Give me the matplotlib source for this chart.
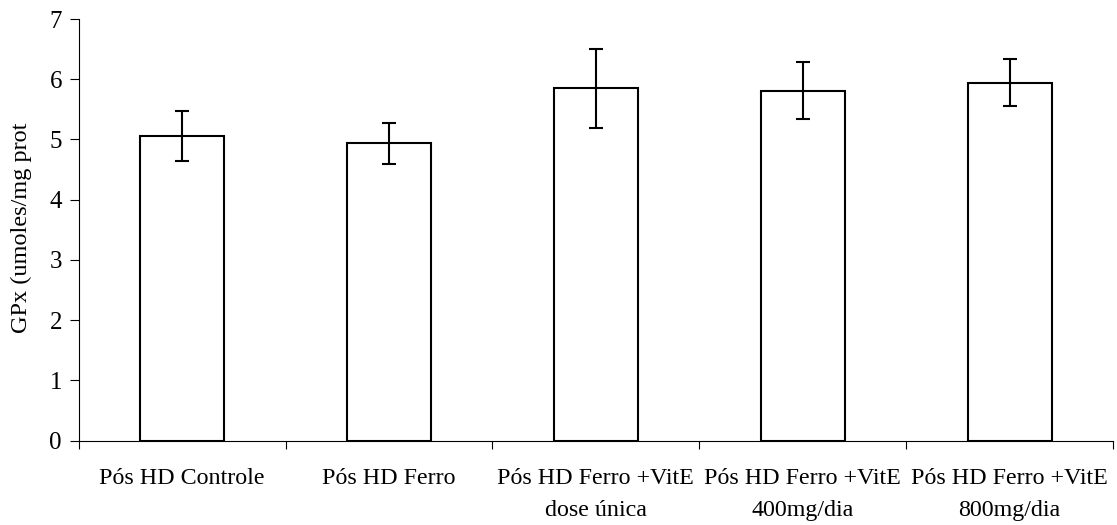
import matplotlib.pyplot as plt
import numpy as np

plt.rcParams['font.family'] = ['Liberation Serif', 'DejaVu Serif']

# data
groups = ['Pós HD Controle', 'Pós HD Ferro', 'Pós HD Ferro +VitE\ndose única',
          'Pós HD Ferro +VitE\n400mg/dia', 'Pós HD Ferro +VitE\n800mg/dia']
gpx = [5.06, 4.94, 5.85, 5.81, 5.94]
sd = [0.41, 0.34, 0.66, 0.47, 0.39]

fig = plt.figure(figsize=(11.17, 5.25), dpi=100)
ax = fig.add_axes([0.0705, 0.1606, 0.926, 0.8032])

x = np.arange(len(groups))
ax.bar(x, gpx, width=0.405, color='white', edgecolor='black', linewidth=1.5, zorder=2)
ax.errorbar(x, gpx, yerr=sd, fmt='none', ecolor='black', elinewidth=1.5,
            capsize=5.3, capthick=1.5, zorder=3)

ax.set_xlim(-0.5, len(groups) - 0.5)
ax.set_ylim(0, 7)

# ticks between categories, labels under the bars
ax.set_xticks(np.arange(-0.5, len(groups), 1))
ax.set_xticklabels([])
ax.set_xticks(x, minor=True)
ax.set_xticklabels(groups, minor=True, fontsize=17.3, linespacing=1.68)
ax.tick_params(axis='x', which='major', direction='out', length=6, width=0.8)
ax.tick_params(axis='x', which='minor', length=0, pad=20)

ax.set_yticks(range(8))
ax.tick_params(axis='y', direction='out', length=6.3, width=0.8, pad=5.8, labelsize=18)

for s in ['top', 'right']:
    ax.spines[s].set_visible(False)
for s in ['left', 'bottom']:
    ax.spines[s].set_linewidth(0.8)

fig.text(0.0188, 0.5667, 'GPx (umoles/mg prot', rotation=90, ha='center', va='center', fontsize=17.5)

fig.savefig('out.png', dpi=100)
